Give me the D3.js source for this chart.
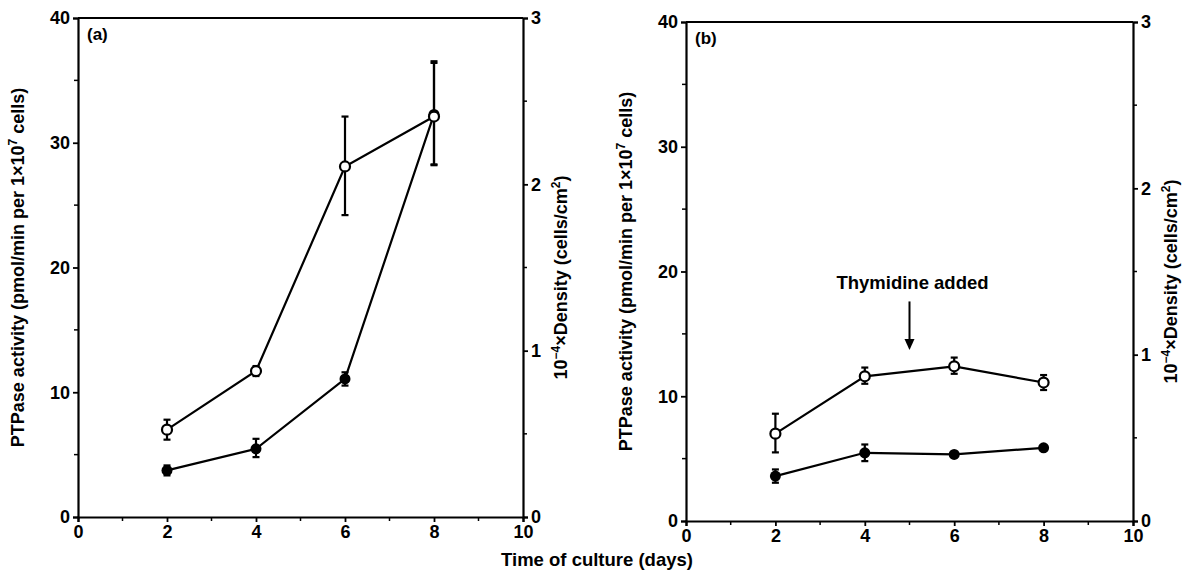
<!DOCTYPE html>
<html>
<head>
<meta charset="utf-8">
<script src="https://cdn.jsdelivr.net/npm/d3@7"></script>
<style>
  body { margin: 0; background: #fff; }
  svg { display: block; }
  text { font-family: "Liberation Sans", Arial, sans-serif; fill: #000; }
</style>
</head>
<body>
<div id="chart"></div>
<script>
const width = 1190, height = 577;

// days of culture
const days = [2, 4, 6, 8];
// open circles: PTPase activity (left axis), with error bar ranges
const openA = [7.0, 11.7, 28.1, 32.1];
const openAErr = [[6.2, 7.8], [11.3, 12.1], [24.2, 32.1], [28.2, 36.4]];
const openB = [7.0, 11.6, 12.4, 11.1];
const openBErr = [[5.5, 8.6], [11.0, 12.3], [11.8, 13.1], [10.5, 11.7]];
// filled circles: density (right axis, 10^-4 cells/cm2)
const fillA = [0.28, 0.41, 0.83, 2.42];
const fillAErr = [[0.25, 0.31], [0.36, 0.47], [0.79, 0.87], [2.12, 2.74]];
const fillB = [0.27, 0.41, 0.40, 0.44];
const fillBErr = [[0.23, 0.31], [0.36, 0.46], [0.39, 0.41], [0.43, 0.45]];

const xTicks = [0, 2, 4, 6, 8, 10];
const leftTicks = [0, 10, 20, 30, 40];
const rightTicks = [0, 1, 2, 3];

const panels = [
  {label: "(a)", x0: 78, x1: 523, yTop: 18, yBot: 517,
   open: openA, openErr: openAErr, fill: fillA, fillErr: fillAErr},
  {label: "(b)", x0: 686, x1: 1133, yTop: 22, yBot: 521,
   open: openB, openErr: openBErr, fill: fillB, fillErr: fillBErr,
   note: {text: "Thymidine added", x: 5, y: 18.6, from: 17.6, to: 13.7}}
];

const svg = d3.select("#chart").append("svg")
  .attr("width", width)
  .attr("height", height);

panels.forEach(p => {
  const x = d3.scaleLinear().domain([0, 10]).range([p.x0, p.x1]);
  const yL = d3.scaleLinear().domain([0, 40]).range([p.yBot, p.yTop]);
  const yR = d3.scaleLinear().domain([0, 3]).range([p.yBot, p.yTop]);
  const g = svg.append("g");

  // minor ticks
  const minor = g.append("g").attr("stroke", "#000").attr("stroke-width", 1.5);
  d3.range(1, 10, 2).forEach(v => {
    minor.append("line").attr("x1", x(v)).attr("x2", x(v))
      .attr("y1", p.yBot).attr("y2", p.yBot + 4);
  });
  d3.range(5, 40, 10).forEach(v => {
    minor.append("line").attr("x1", p.x0).attr("x2", p.x0 - 4)
      .attr("y1", yL(v)).attr("y2", yL(v));
  });
  d3.range(0.5, 3, 1).forEach(v => {
    minor.append("line").attr("x1", p.x1).attr("x2", p.x1 + 4)
      .attr("y1", yR(v)).attr("y2", yR(v));
  });

  const xAxis = g.append("g")
    .attr("transform", `translate(0,${p.yBot})`)
    .call(d3.axisBottom(x).tickValues(xTicks).tickSize(5).tickPadding(3).tickFormat(d3.format("d")));
  const leftAxis = g.append("g")
    .attr("transform", `translate(${p.x0},0)`)
    .call(d3.axisLeft(yL).tickValues(leftTicks).tickSize(5).tickPadding(3).tickFormat(d3.format("d")));
  const rightAxis = g.append("g")
    .attr("transform", `translate(${p.x1},0)`)
    .call(d3.axisRight(yR).tickValues(rightTicks).tickSize(5).tickPadding(3).tickFormat(d3.format("d")));

  [xAxis, leftAxis, rightAxis].forEach(a => {
    a.attr("font-size", 18).attr("font-family", "'Liberation Sans', Arial, sans-serif");
    a.select(".domain").attr("stroke-width", 2.2);
    a.selectAll(".tick line").attr("stroke-width", 1.8);
    a.selectAll(".tick text").attr("font-weight", "bold");
  });

  // top border
  g.append("line")
    .attr("x1", p.x0).attr("x2", p.x1)
    .attr("y1", p.yTop).attr("y2", p.yTop)
    .attr("stroke", "#000").attr("stroke-width", 2.2);

  // panel label
  g.append("text")
    .attr("x", p.x0 + 9).attr("y", p.yTop + 22)
    .attr("font-size", 17).attr("font-weight", "bold")
    .text(p.label);

  // axis titles
  g.append("text")
    .attr("transform", `translate(${p.x0 - 54},${(p.yTop + p.yBot) / 2}) rotate(-90)`)
    .attr("text-anchor", "middle")
    .attr("font-size", 18).attr("font-weight", "bold")
    .call(t => {
      t.append("tspan").text("PTPase activity (pmol/min per 1×10");
      t.append("tspan").attr("dy", -7).attr("font-size", 12).text("7");
      t.append("tspan").attr("dy", 7).text(" cells)");
    });
  g.append("text")
    .attr("transform", `translate(${p.x1 + 44},${(p.yTop + p.yBot) / 2 + 10}) rotate(-90)`)
    .attr("text-anchor", "middle")
    .attr("font-size", 18).attr("font-weight", "bold")
    .call(t => {
      t.append("tspan").text("10");
      t.append("tspan").attr("dy", -7).attr("font-size", 12).text("−4");
      t.append("tspan").attr("dy", 7).text("×Density (cells/cm");
      t.append("tspan").attr("dy", -7).attr("font-size", 12).text("2");
      t.append("tspan").attr("dy", 7).text(")");
    });

  const line = d3.line();
  const openPts = days.map((d, i) => [x(d), yL(p.open[i])]);
  const fillPts = days.map((d, i) => [x(d), yR(p.fill[i])]);

  g.append("path").attr("d", line(openPts))
    .attr("fill", "none").attr("stroke", "#000").attr("stroke-width", 2.2);
  g.append("path").attr("d", line(fillPts))
    .attr("fill", "none").attr("stroke", "#000").attr("stroke-width", 2.2);

  function errBars(err, y) {
    days.forEach((d, i) => {
      const [lo, hi] = err[i];
      const eg = g.append("g").attr("stroke", "#000").attr("stroke-width", 2.2);
      eg.append("line").attr("x1", x(d)).attr("x2", x(d)).attr("y1", y(lo)).attr("y2", y(hi));
      [lo, hi].forEach(v => eg.append("line")
        .attr("x1", x(d) - 3.5).attr("x2", x(d) + 3.5)
        .attr("y1", y(v)).attr("y2", y(v)));
    });
  }
  errBars(p.fillErr, yR);
  errBars(p.openErr, yL);

  g.selectAll(null).data(fillPts).join("circle")
    .attr("cx", d => d[0]).attr("cy", d => d[1]).attr("r", 5.5)
    .attr("fill", "#000");
  g.selectAll(null).data(openPts).join("circle")
    .attr("cx", d => d[0]).attr("cy", d => d[1]).attr("r", 5)
    .attr("fill", "#fff").attr("stroke", "#000").attr("stroke-width", 2.2);

  if (p.note) {
    const n = p.note;
    g.append("text")
      .attr("x", x(n.x) + 3).attr("y", yL(n.y))
      .attr("text-anchor", "middle")
      .attr("font-size", 18.5).attr("font-weight", "bold")
      .text(n.text);
    g.append("line")
      .attr("x1", x(n.x)).attr("x2", x(n.x))
      .attr("y1", yL(n.from)).attr("y2", yL(n.to) - 8)
      .attr("stroke", "#000").attr("stroke-width", 2);
    g.append("path")
      .attr("d", `M${x(n.x) - 5},${yL(n.to) - 11} L${x(n.x) + 5},${yL(n.to) - 11} L${x(n.x)},${yL(n.to)} Z`)
      .attr("fill", "#000");
  }
});

// shared x title
svg.append("text")
  .attr("x", 597).attr("y", 566)
  .attr("text-anchor", "middle")
  .attr("font-size", 18.5).attr("font-weight", "bold")
  .text("Time of culture (days)");
</script>
</body>
</html>
